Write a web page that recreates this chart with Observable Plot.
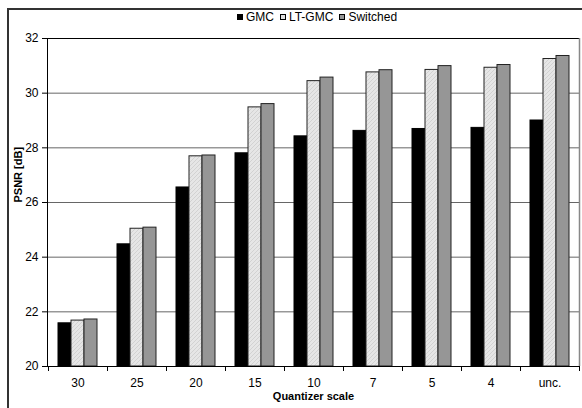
<!DOCTYPE html>
<html>
<head>
<meta charset="utf-8">
<script src="https://cdn.jsdelivr.net/npm/d3@7"></script>
<script src="https://cdn.jsdelivr.net/npm/@observablehq/plot@0.6"></script>
<style>
  html, body { margin: 0; padding: 0; background: #fff; }
  #wrap { position: relative; width: 582px; height: 408px; overflow: hidden; font-family: "Liberation Sans", Arial, sans-serif; }
  #borderL { position: absolute; left: 7px; top: 8px; width: 2px; height: 400px; background: #333; }
  #borderT { position: absolute; left: 7px; top: 8px; width: 575px; height: 2px; background: #333; }
  #legend { position: absolute; top: 10px; left: 0; width: 634px; display: flex; justify-content: center; font-size: 12px; color: #000; }
  .item { display: flex; align-items: center; margin: 0 3px; }
  .sw { width: 6px; height: 6px; border: 1px solid #000; margin-right: 3px; box-sizing: border-box; }
  #chart { position: absolute; left: 0; top: 0; }
</style>
</head>
<body>
<div id="wrap">
  <div id="chart"></div>
  <div id="borderL"></div>
  <div id="borderT"></div>
  <div id="legend"></div>
</div>
<script>
const categories = ["30", "25", "20", "15", "10", "7", "5", "4", "unc."];
const seriesNames = ["GMC", "LT-GMC", "Switched"];
const gmc      = [21.58, 24.47, 26.55, 27.80, 28.42, 28.62, 28.69, 28.73, 29.00];
const ltgmc    = [21.68, 25.04, 27.69, 29.48, 30.44, 30.76, 30.85, 30.93, 31.25];
const switched = [21.72, 25.08, 27.72, 29.60, 30.57, 30.84, 30.99, 31.03, 31.36];
const yTicks = [20, 22, 24, 26, 28, 30, 32];
const gridTicks = [22, 24, 26, 28, 30];

const seriesValues = [gmc, ltgmc, switched];
const seriesFill = ["#000000", "url(#hatch)", "#969696"];
const seriesStroke = ["#000000", "#222222", "#222222"];
const seriesDx = [-13, 0, 13];

const rows = seriesValues.map((vals, s) =>
  categories.map((c, i) => ({cat: c, series: seriesNames[s], value: vals[i]}))
);

const font = "Liberation Sans, Arial, sans-serif";

const plot = Plot.plot({
  width: 582,
  height: 408,
  marginLeft: 47,
  marginRight: 3,
  marginTop: 38,
  marginBottom: 42,
  style: {fontFamily: font, fontSize: "12px", color: "#000", background: "transparent"},
  x: {type: "band", domain: categories, padding: 0, axis: null},
  y: {domain: [20, 32], axis: null},
  marks: [
    Plot.ruleY(gridTicks, {stroke: "#666", strokeWidth: 1}),
    ...rows.map((data, s) => Plot.barY(data, {
      x: "cat", y1: 20, y2: "value",
      insetLeft: 23, insetRight: 23, dx: seriesDx[s],
      fill: seriesFill[s], stroke: seriesStroke[s], strokeWidth: 1
    })),
    Plot.frame({stroke: "#000", strokeWidth: 1}),
    Plot.ruleX(["unc."], {x: d => d, dx: 29.5, stroke: "#888", strokeWidth: 1.5}),
    Plot.axisY(yTicks, {tickSize: 5, tickPadding: 4, fontSize: 12, label: null, stroke: "#000"}),
    Plot.axisX(categories, {tickSize: 0, tickPadding: 12, fontSize: 12, label: null}),
    Plot.axisX(categories, {tickSize: 5, dx: 29.5, tickFormat: () => "", label: null, stroke: "#000"}),
    Plot.axisX(["30"], {tickSize: 5, dx: -29.5, tickFormat: () => "", label: null, stroke: "#000"}),
    Plot.text(["PSNR [dB]"], {frameAnchor: "left", dx: -29, rotate: -90, fontWeight: "bold", fontSize: 11, text: d => d, fill: "#000"}),
    Plot.text(["Quantizer scale"], {frameAnchor: "bottom", dy: 33, fontWeight: "bold", fontSize: 11, text: d => d, fill: "#000", letterSpacing: "0.6px"})
  ]
});

// hatch pattern for LT-GMC bars
const svgSel = d3.select(plot);
const defs = svgSel.insert("defs", ":first-child");
const pat = defs.append("pattern")
  .attr("id", "hatch").attr("patternUnits", "userSpaceOnUse")
  .attr("width", 4).attr("height", 4);
pat.append("rect").attr("width", 4).attr("height", 4).attr("fill", "#e6e6e6");
pat.append("path").attr("d", "M-1,1 l2,-2 M0,4 l4,-4 M3,5 l2,-2").attr("stroke", "#d2d2d2").attr("stroke-width", 1);

document.getElementById("chart").appendChild(plot);

// legend
const legend = document.getElementById("legend");
const legendFill = ["#000000", "#e0e0e0", "#969696"];
seriesNames.forEach((name, s) => {
  const item = document.createElement("div");
  item.className = "item";
  const sw = document.createElement("span");
  sw.className = "sw";
  sw.style.background = legendFill[s];
  item.appendChild(sw);
  const t = document.createElement("span");
  t.textContent = name;
  item.appendChild(t);
  legend.appendChild(item);
});
</script>
</body>
</html>
